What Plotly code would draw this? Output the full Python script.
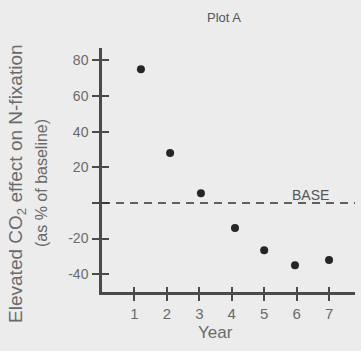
import plotly.graph_objects as go

years = [1.2, 2.1, 3.05, 4.1, 5.0, 5.95, 7.0]
effect = [75, 28, 5.5, -14, -26.5, -35, -32]
x_ticks = [1, 2, 3, 4, 5, 6, 7]
y_ticks = [80, 60, 40, 20, -20, -40]
y_tick_text = ["80", "60", "40", "20", "-20", "-40"]
y_all_ticks = [80, 60, 40, 20, 0, -20, -40]
baseline = 0

FONT = "Liberation Sans, Arial, sans-serif"
BG = "#ececec"
AX = "#4a4a4a"
TXT = "#6a6a6a"

fig = go.Figure()
fig.add_trace(go.Scatter(x=years, y=effect, mode="markers",
                         marker=dict(color="#262626", size=8),
                         showlegend=False, hoverinfo="skip"))
fig.add_hline(y=baseline, line=dict(color="#333333", width=1.6, dash="8px,6px"))

fig.update_layout(
    width=361, height=351,
    margin=dict(l=102, r=6, t=48, b=59),
    paper_bgcolor=BG, plot_bgcolor=BG,
    font=dict(family=FONT, color=TXT, size=13),
    xaxis=dict(range=[0, 7.8], tickvals=x_ticks, showgrid=False, zeroline=False,
               showline=True, linecolor=AX, linewidth=2.5,
               ticks="outside", ticklen=6, tickwidth=2, tickcolor=AX,
               tickfont=dict(size=15, color=TXT)),
    yaxis=dict(range=[-50, 87], tickvals=y_ticks, ticktext=y_tick_text,
               showgrid=False, zeroline=False,
               showline=True, linecolor=AX, linewidth=2.5,
               ticks="outside", ticklen=7, tickwidth=2, tickcolor=AX,
               ticklabelstandoff=1,
               minor=dict(tickmode="array", tickvals=[baseline], ticks="outside",
                          ticklen=7, tickwidth=2, tickcolor=AX, showgrid=False),
               tickfont=dict(size=14, color=TXT)),
    xaxis2=dict(range=[0, 7.8], overlaying="x", anchor="y", tickvals=x_ticks,
                showticklabels=False, showgrid=False, zeroline=False,
                ticks="inside", ticklen=5, tickwidth=2, tickcolor=AX, side="bottom"),
    yaxis2=dict(range=[-50, 87], overlaying="y", anchor="x", tickvals=y_all_ticks,
                showticklabels=False, showgrid=False, zeroline=False,
                ticks="inside", ticklen=7, tickwidth=2, tickcolor=AX, side="left"),
)
fig.add_trace(go.Scatter(x=[None], y=[None], xaxis="x2", yaxis="y2",
                         showlegend=False, hoverinfo="skip"))

fig.add_annotation(text="Plot A", xref="paper", yref="paper", x=0.482, y=1.127,
                   showarrow=False, font=dict(size=13, color="#555555"),
                   xanchor="center", yanchor="middle")
fig.add_annotation(text="Year", xref="paper", yref="paper", x=0.45, y=-0.168,
                   showarrow=False, font=dict(size=17, color=TXT),
                   xanchor="center", yanchor="middle")
fig.add_annotation(text="BASE", xref="x", yref="y", x=6.43, y=baseline,
                   showarrow=False, font=dict(size=14, color="#555555"),
                   xanchor="center", yanchor="bottom", yshift=-2)
fig.add_annotation(text="Elevated CO<sub>2</sub> effect on N-fixation", textangle=-90,
                   xref="paper", yref="paper", x=-0.336, y=0.447,
                   showarrow=False, font=dict(size=19, color=TXT),
                   xanchor="center", yanchor="middle")
fig.add_annotation(text="(as % of baseline)", textangle=-90,
                   xref="paper", yref="paper", x=-0.237, y=0.447,
                   showarrow=False, font=dict(size=16, color=TXT),
                   xanchor="center", yanchor="middle")

fig.write_html("out.html", config={"displayModeBar": False},
               post_script="document.body.style.margin='0';")
